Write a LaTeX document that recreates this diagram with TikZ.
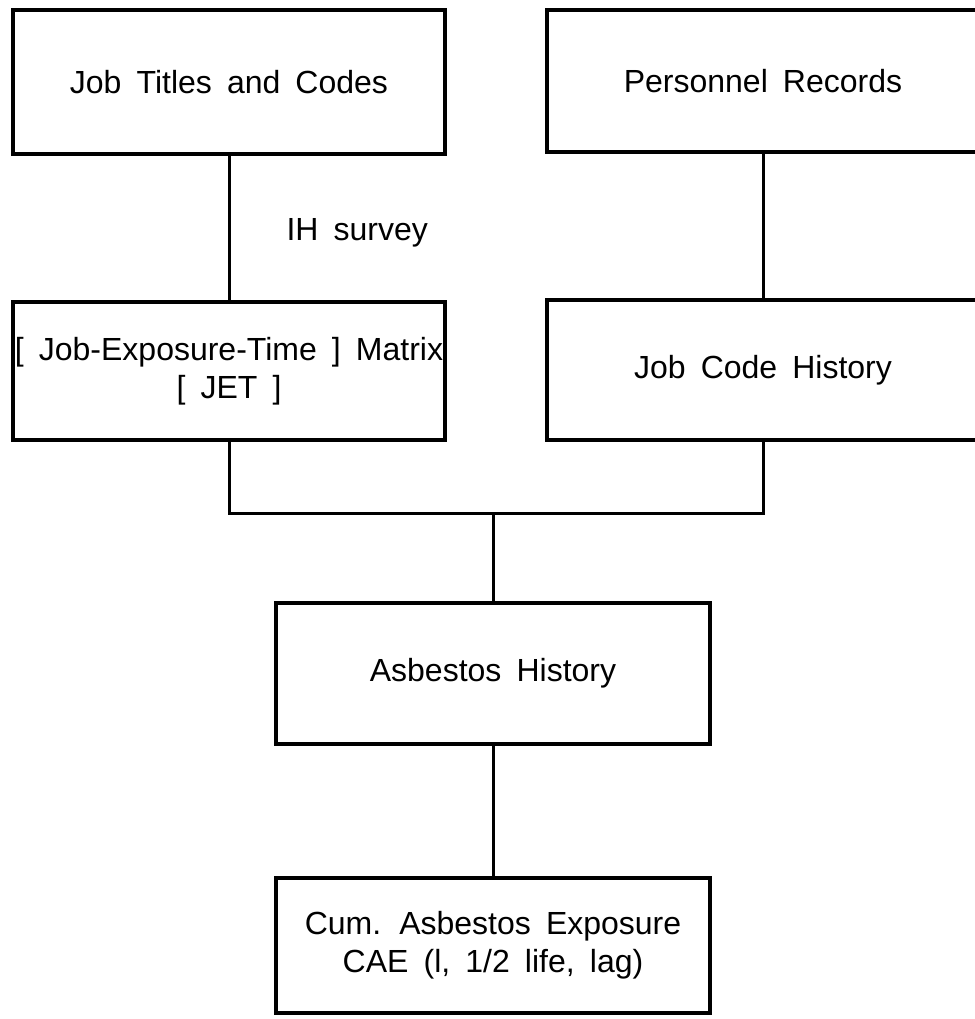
\documentclass[tikz,border=0pt]{standalone}
\usepackage{fontspec}
\setmainfont[WordSpace=1.7]{Liberation Sans}

\begin{document}
\begin{tikzpicture}[x=1pt, y=-1pt,
        box/.style={draw, line width=4pt, inner sep=0pt, align=center,
            font=\fontsize{32}{38}\selectfont},
        link/.style={line width=3pt},
        every node/.style={font=\fontsize{32}{38}\selectfont}]
            % page frame
            \useasboundingbox (0,0) rectangle (974,1019);

            % top row
            \node[box, minimum width=432pt, minimum height=144pt] (titles) at (229,82) {Job Titles and Codes};
            \node[box, minimum width=432pt, minimum height=142pt] (personnel) at (763,81) {Personnel Records};

            % middle row
            \node[box, minimum width=432pt, minimum height=138pt] (jet) at (229,371) {[ Job-Exposure-Time ] Matrix\\{}[ JET ]};
            \node[box, minimum width=432pt, minimum height=140pt] (codehist) at (763,370) {Job Code History};

            % lower boxes
            \node[box, minimum width=434pt, minimum height=141pt] (asbhist) at (493,673.5) {Asbestos History};
            \node[box, minimum width=434pt, minimum height=135pt] (cae) at (493,945.5) {Cum. Asbestos Exposure\\CAE (l, 1/2 life, lag)};

            % survey label
            \node[anchor=west] (survey) at (283,233) {IH survey};

            % connectors
            \coordinate (join) at (493,513);
            \draw[link] (titles.south) -- (jet.north);
            \draw[link] (personnel.south) -- (codehist.north);
            \draw[link] (jet.south) |- (join) -| (codehist.south);
            \draw[link] (join) -- (asbhist.north);
            \draw[link] (asbhist.south) -- (cae.north);
        \end{tikzpicture}
\end{document}
